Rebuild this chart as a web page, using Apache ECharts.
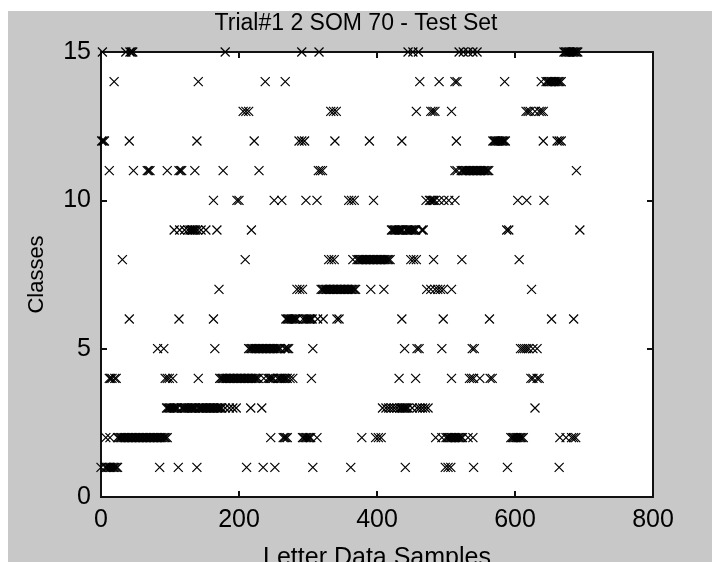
<!DOCTYPE html>
<html>
<head>
<meta charset="utf-8">
<script src="https://cdn.jsdelivr.net/npm/echarts@6/dist/echarts.min.js"></script>
<style>html,body{margin:0;padding:0;background:#fff;}#c{width:712px;height:562px;}</style>
</head>
<body>
<div id="c"></div>
<script>
// Sample index positions (x) of test samples assigned to each class (y)
var class1 = [0,6,8,10,12,14,16,18,20,22,24,85,112,139,211,235,252,307,362,441,499,503,507,540,589,664];
var class2 = [7,13,24,26,28,30,32,34,36,38,40,42,44,46,48,50,52,54,56,58,60,62,64,66,68,70,72,74,76,78,80,82,84,86,88,90,92,94,96,246,264,266,268,270,292,294,296,298,300,302,304,313,378,398,402,406,485,494,500,502,504,506,508,510,512,514,516,518,520,522,524,532,539,594,596,598,600,602,604,606,608,610,612,665,674,682,685,688];
var class3 = [95,97,99,101,103,105,107,109,111,117,119,121,123,125,127,129,131,133,135,137,141,143,145,147,149,151,153,155,157,159,161,163,165,167,169,171,173,175,180,186,191,196,217,233,408,413,417,421,425,429,433,435,437,439,441,443,445,451,458,462,466,470,474,629];
var class4 = [12,14,16,20,22,93,96,99,104,141,172,174,176,178,180,182,184,186,188,190,192,194,196,198,200,202,204,206,208,210,212,214,216,218,220,222,224,226,228,236,242,244,246,248,250,256,258,260,262,264,266,268,270,274,278,305,432,456,508,534,537,540,549,564,567,623,626,632,635];
var class5 = [82,91,165,214,216,218,220,222,224,226,228,230,232,234,236,238,240,242,244,246,248,250,252,254,256,258,260,266,268,270,272,307,440,458,461,494,538,541,608,611,614,617,620,626,632];
var class6 = [41,113,163,268,270,272,274,276,278,280,282,284,293,296,298,300,302,304,306,314,322,342,345,436,496,563,653,685];
var class7 = [171,284,288,292,319,321,323,325,327,329,331,333,335,337,339,341,343,345,347,349,351,353,355,357,359,361,363,365,367,369,391,410,472,478,484,488,492,496,508,624];
var class8 = [31,209,330,334,338,365,371,373,375,377,379,381,383,385,387,389,391,393,395,397,399,401,403,405,407,409,411,413,415,417,419,449,453,457,482,523,606];
var class9 = [106,114,121,126,129,131,133,135,137,140,145,152,168,218,421,423,425,427,429,431,433,435,437,442,444,446,448,450,452,454,456,465,467,588,591,694];
var class10 = [163,197,200,251,262,297,313,359,363,367,395,471,476,478,480,482,484,490,497,504,513,604,617,642];
var class11 = [12,47,67,69,71,96,113,115,117,136,177,229,315,318,321,513,516,522,524,526,528,530,532,534,536,538,540,542,544,546,548,550,552,554,556,558,560,562,689];
var class12 = [1,3,5,41,139,222,287,291,295,339,389,436,515,568,570,572,574,576,578,580,582,584,586,641,661,664,667];
var class13 = [206,210,214,333,337,341,457,478,481,484,508,616,619,622,629,635,638,641];
var class14 = [19,141,238,267,462,490,513,516,585,638,645,647,649,651,653,655,657,659,661,663,665,667];
var class15 = [2,36,42,44,46,180,291,316,445,452,460,519,525,532,539,545,671,673,675,677,679,681,683,685,687,689,691];

var xTicks = [0, 200, 400, 600, 800];
var yTicks = [0, 5, 10, 15];
var titleText = 'Trial#1 2 SOM 70 - Test Set';
var xName = 'Letter Data Samples';
var yName = 'Classes';

var classes = [class1,class2,class3,class4,class5,class6,class7,class8,class9,class10,class11,class12,class13,class14,class15];
var points = [];
classes.forEach(function (arr, i) {
  arr.forEach(function (x) { points.push([x, i + 1]); });
});

var FONT = "'Liberation Sans',Arial,sans-serif";
var FS = 25;
var chart = echarts.init(document.getElementById('c'), null, {renderer: 'canvas'});
var axisLineStyle = {color: '#111', width: 2};
chart.setOption({
  animation: false,
  backgroundColor: '#ffffff',
  graphic: [
    {type: 'rect', z: -10, shape: {x: 8, y: 11, width: 704, height: 551}, style: {fill: '#c8c8c8'}},
    {type: 'text', z: 10, x: 356, y: 12, style: {text: titleText, fill: '#000', font: '23px ' + FONT, textAlign: 'center', textVerticalAlign: 'top'}}
  ],
  grid: {left: 101, top: 52, width: 552, height: 445, show: true, backgroundColor: '#ffffff', borderWidth: 0, containLabel: false, outerBoundsMode: 'none'},
  xAxis: [
    {type: 'value', position: 'bottom', min: xTicks[0], max: xTicks[xTicks.length - 1], interval: xTicks[1] - xTicks[0],
     axisLine: {show: true, onZero: false, lineStyle: axisLineStyle},
     axisTick: {show: true, inside: true, length: 6, lineStyle: axisLineStyle},
     axisLabel: {show: true, color: '#000', fontFamily: FONT, fontSize: FS, margin: 11},
     splitLine: {show: false},
     name: xName, nameLocation: 'middle', nameGap: 49, nameTextStyle: {color: '#000', fontFamily: FONT, fontSize: 25}},
    {type: 'value', position: 'top', min: xTicks[0], max: xTicks[xTicks.length - 1], interval: xTicks[1] - xTicks[0],
     axisLine: {show: true, onZero: false, lineStyle: axisLineStyle},
     axisTick: {show: true, inside: true, length: 6, lineStyle: axisLineStyle},
     axisLabel: {show: false}, splitLine: {show: false}}
  ],
  yAxis: [
    {type: 'value', position: 'left', min: yTicks[0], max: yTicks[yTicks.length - 1], interval: yTicks[1] - yTicks[0],
     axisLine: {show: true, onZero: false, lineStyle: axisLineStyle},
     axisTick: {show: true, inside: true, length: 6, lineStyle: axisLineStyle},
     axisLabel: {show: true, color: '#000', fontFamily: FONT, fontSize: FS, margin: 10},
     splitLine: {show: false},
     name: yName, nameLocation: 'middle', nameGap: 53, nameRotate: 90, nameTextStyle: {color: '#000', fontFamily: FONT, fontSize: 22}},
    {type: 'value', position: 'right', min: yTicks[0], max: yTicks[yTicks.length - 1], interval: yTicks[1] - yTicks[0],
     axisLine: {show: true, onZero: false, lineStyle: axisLineStyle},
     axisTick: {show: true, inside: true, length: 6, lineStyle: axisLineStyle},
     axisLabel: {show: false}, splitLine: {show: false}}
  ],
  series: [{
    type: 'scatter',
    xAxisIndex: 0, yAxisIndex: 0,
    data: points,
    clip: false,
    symbol: 'path://M0,0L10,10M10,0L0,10',
    symbolSize: 9,
    itemStyle: {color: 'none', borderColor: '#000', borderWidth: 1.2, opacity: 1},
    emphasis: {disabled: true}
  }]
});
</script>
</body>
</html>
